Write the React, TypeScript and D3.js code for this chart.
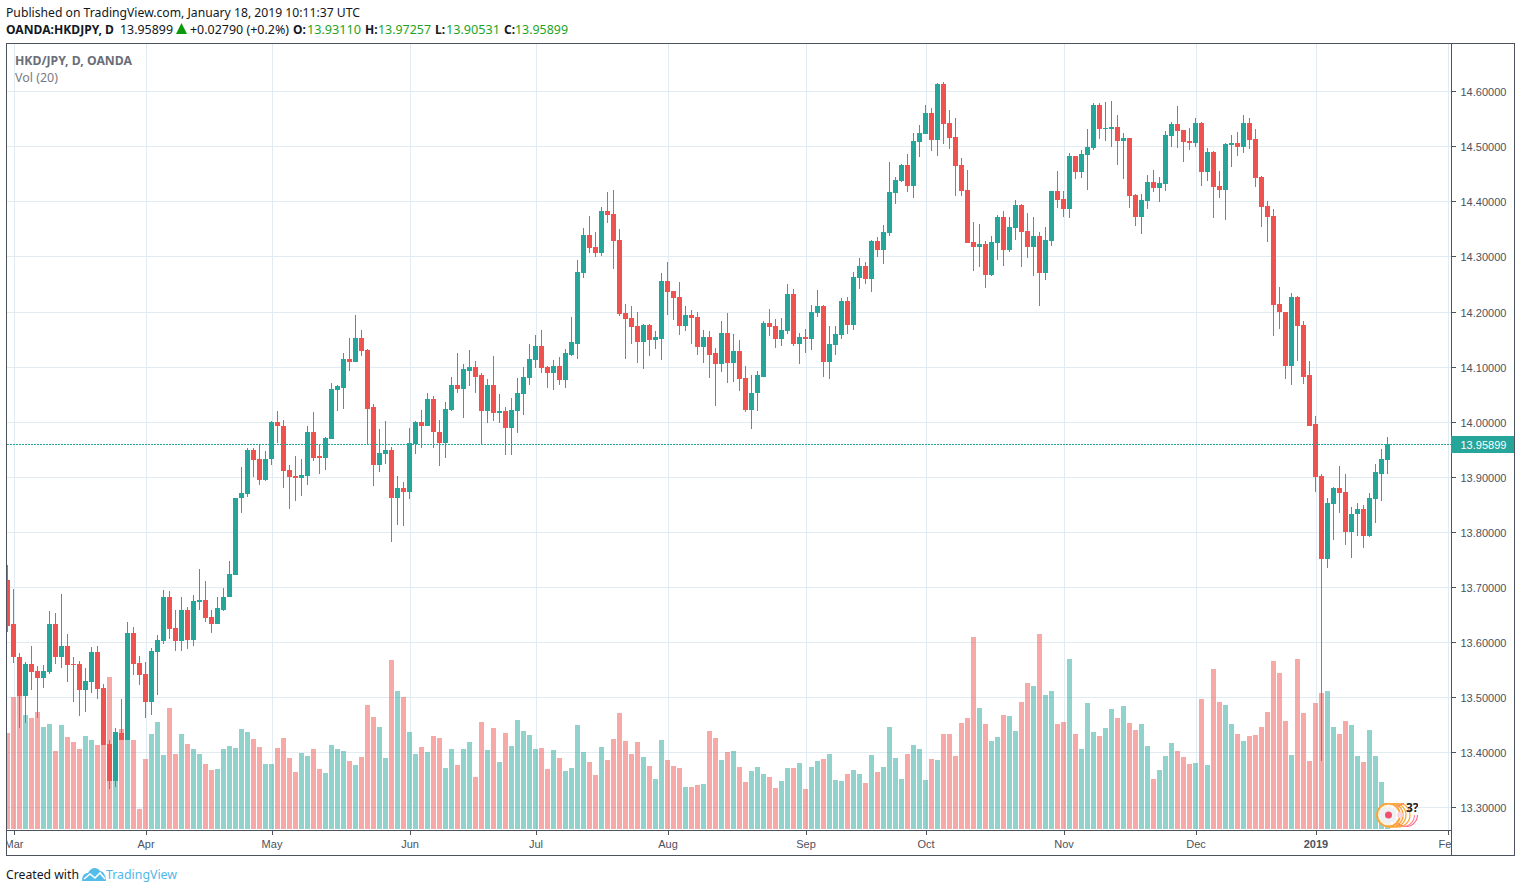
import React from "react";
import * as d3 from "d3";

const opens = [
13.713,13.632,13.573,13.502,13.561,13.548,13.535,13.546,13.632,13.572,
13.593,13.561,13.561,13.513,13.528,13.582,13.517,13.415,13.348,13.435,
13.422,13.617,13.562,13.542,13.492,13.582,13.602,13.682,13.626,13.602,
13.659,13.604,13.673,13.677,13.646,13.632,13.659,13.681,13.722,13.861,
13.868,13.948,13.933,13.895,13.932,13.999,13.993,13.912,13.901,13.897,
13.902,13.981,13.937,13.935,13.968,14.057,14.062,14.113,14.108,14.152,
14.130,14.026,13.921,13.942,13.948,13.862,13.879,13.873,13.960,13.999,
13.992,14.042,13.982,13.961,14.022,14.066,14.059,14.093,14.099,14.084,
14.019,14.066,14.015,14.019,13.988,14.019,14.050,14.079,14.112,14.137,
14.099,14.088,14.101,14.075,14.122,14.142,14.270,14.339,14.317,14.306,
14.382,14.377,14.330,14.197,14.188,14.173,14.144,14.175,14.148,14.151,
14.255,14.237,14.226,14.173,14.193,14.190,14.135,14.153,14.124,14.104,
14.161,14.106,14.128,14.079,14.021,14.052,14.082,14.179,14.173,14.150,
14.164,14.232,14.141,14.153,14.150,14.197,14.210,14.108,14.139,14.157,
14.219,14.175,14.261,14.282,14.259,14.328,14.312,14.342,14.415,14.437,
14.466,14.428,14.508,14.522,14.561,14.512,14.613,14.542,14.517,14.466,
14.421,14.326,14.317,14.322,14.266,14.324,14.372,14.312,14.351,14.393,
14.346,14.317,14.337,14.270,14.328,14.419,14.404,14.386,14.482,14.453,
14.484,14.497,14.575,14.531,14.531,14.535,14.510,14.515,14.412,14.372,
14.401,14.435,14.424,14.431,14.519,14.541,14.530,14.510,14.506,14.542,
14.453,14.490,14.428,14.421,14.502,14.506,14.499,14.542,14.513,14.444,
14.392,14.373,14.213,14.200,14.102,14.226,14.175,14.084,13.995,13.901,
13.750,13.850,13.879,13.872,13.799,13.832,13.842,13.792,13.859,13.906,
13.9311];

const closes = [
13.630,13.572,13.502,13.561,13.546,13.535,13.548,13.632,13.572,13.593,
13.559,13.559,13.513,13.530,13.582,13.515,13.413,13.348,13.437,13.422,
13.617,13.561,13.541,13.492,13.584,13.604,13.682,13.624,13.602,13.659,
13.604,13.675,13.677,13.644,13.632,13.661,13.682,13.724,13.862,13.870,
13.948,13.931,13.895,13.933,13.999,13.992,13.910,13.899,13.897,13.904,
13.981,13.935,13.935,13.970,14.059,14.064,14.113,14.108,14.152,14.128,
14.024,13.921,13.944,13.948,13.862,13.879,13.873,13.961,13.999,13.992,
14.042,13.981,13.961,14.024,14.066,14.059,14.095,14.099,14.082,14.019,
14.066,14.015,14.019,13.988,14.021,14.052,14.081,14.113,14.137,14.097,
14.088,14.101,14.075,14.124,14.144,14.272,14.339,14.315,14.306,14.382,
14.375,14.328,14.195,14.186,14.172,14.144,14.175,14.148,14.153,14.255,
14.235,14.224,14.173,14.193,14.188,14.135,14.153,14.122,14.104,14.161,
14.106,14.128,14.077,14.021,14.053,14.084,14.179,14.172,14.150,14.166,
14.232,14.141,14.153,14.150,14.199,14.210,14.108,14.141,14.159,14.219,
14.175,14.262,14.282,14.259,14.328,14.312,14.344,14.417,14.439,14.466,
14.428,14.510,14.524,14.561,14.512,14.613,14.541,14.515,14.464,14.419,
14.324,14.317,14.322,14.266,14.326,14.372,14.312,14.353,14.393,14.344,
14.317,14.337,14.270,14.330,14.419,14.402,14.386,14.482,14.453,14.486,
14.499,14.575,14.531,14.533,14.535,14.510,14.515,14.410,14.372,14.402,
14.435,14.424,14.433,14.521,14.541,14.528,14.508,14.506,14.542,14.453,
14.490,14.426,14.421,14.504,14.506,14.499,14.542,14.512,14.442,14.390,
14.372,14.212,14.199,14.102,14.226,14.173,14.082,13.993,13.899,13.750,
13.852,13.879,13.870,13.799,13.833,13.842,13.792,13.861,13.908,13.932,
13.95899];

const highs = [
13.739,13.697,13.581,13.564,13.593,13.557,13.559,13.657,13.652,13.688,
13.615,13.572,13.566,13.553,13.591,13.593,13.524,13.422,13.444,13.497,
13.637,13.628,13.575,13.564,13.590,13.613,13.695,13.692,13.659,13.682,
13.664,13.686,13.732,13.710,13.659,13.681,13.699,13.748,13.862,13.917,
13.952,13.953,13.957,13.946,14.001,14.019,14.004,13.922,13.937,13.932,
13.993,14.017,13.959,13.973,14.071,14.066,14.124,14.152,14.193,14.166,
14.132,14.032,13.986,14.001,13.955,13.901,13.890,13.988,14.002,14.021,
14.053,14.046,14.004,14.035,14.082,14.124,14.104,14.130,14.110,14.088,
14.077,14.119,14.050,14.026,14.044,14.079,14.099,14.142,14.157,14.166,
14.101,14.112,14.117,14.132,14.190,14.293,14.352,14.373,14.344,14.390,
14.417,14.421,14.350,14.213,14.210,14.199,14.177,14.177,14.164,14.270,
14.290,14.237,14.253,14.210,14.202,14.199,14.166,14.164,14.133,14.182,
14.197,14.159,14.148,14.102,14.084,14.093,14.182,14.204,14.186,14.188,
14.250,14.241,14.162,14.168,14.212,14.239,14.212,14.173,14.173,14.224,
14.226,14.272,14.297,14.290,14.330,14.335,14.357,14.472,14.444,14.468,
14.486,14.524,14.539,14.575,14.570,14.615,14.617,14.566,14.552,14.479,
14.457,14.362,14.359,14.328,14.337,14.375,14.382,14.372,14.402,14.395,
14.379,14.372,14.344,14.353,14.419,14.455,14.419,14.488,14.482,14.493,
14.531,14.579,14.579,14.581,14.582,14.557,14.524,14.515,14.413,14.413,
14.448,14.457,14.444,14.528,14.544,14.573,14.530,14.533,14.551,14.544,
14.497,14.491,14.455,14.506,14.521,14.526,14.557,14.551,14.531,14.446,
14.401,14.386,14.244,14.200,14.233,14.228,14.182,14.110,14.010,13.906,
13.862,13.882,13.919,13.906,13.846,13.852,13.848,13.870,13.924,13.950,
13.97257];

const lows = [
13.618,13.562,13.444,13.453,13.513,13.462,13.517,13.542,13.561,13.553,
13.528,13.492,13.466,13.473,13.508,13.497,13.413,13.333,13.337,13.422,
13.422,13.541,13.522,13.462,13.468,13.504,13.597,13.606,13.584,13.584,
13.588,13.593,13.659,13.637,13.617,13.632,13.657,13.681,13.722,13.835,
13.864,13.899,13.886,13.892,13.921,13.962,13.879,13.842,13.857,13.866,
13.886,13.928,13.906,13.913,13.968,14.019,14.024,14.092,14.108,14.119,
13.959,13.884,13.908,13.924,13.781,13.812,13.810,13.859,13.941,13.952,
13.992,13.953,13.919,13.935,14.019,14.052,14.006,14.064,14.053,13.960,
13.997,14.001,13.997,13.939,13.939,13.979,14.013,14.066,14.097,14.088,
14.061,14.057,14.066,14.062,14.119,14.113,14.261,14.306,14.299,14.301,
14.361,14.277,14.192,14.113,14.142,14.106,14.095,14.119,14.132,14.112,
14.193,14.184,14.157,14.164,14.142,14.121,14.106,14.079,14.028,14.090,
14.070,14.073,14.055,14.017,13.986,14.019,14.081,14.155,14.133,14.137,
14.159,14.137,14.104,14.124,14.130,14.190,14.082,14.077,14.122,14.150,
14.159,14.166,14.241,14.250,14.235,14.299,14.286,14.337,14.395,14.435,
14.417,14.406,14.481,14.522,14.492,14.482,14.504,14.495,14.410,14.410,
14.324,14.273,14.281,14.242,14.264,14.293,14.282,14.308,14.330,14.281,
14.297,14.264,14.210,14.257,14.319,14.388,14.372,14.370,14.441,14.442,
14.421,14.493,14.513,14.510,14.499,14.466,14.441,14.388,14.355,14.341,
14.386,14.417,14.399,14.419,14.499,14.497,14.471,14.493,14.499,14.428,
14.437,14.370,14.406,14.366,14.462,14.482,14.488,14.495,14.426,14.353,
14.326,14.155,14.168,14.077,14.066,14.110,14.068,13.993,13.872,13.384,
13.735,13.786,13.835,13.777,13.752,13.793,13.770,13.790,13.817,13.857,
13.90531];

const volumes = [
288,396,420,342,333,351,306,315,234,312,276,261,240,279,267,252,252,456,291,300,
267,267,60,210,285,321,222,363,225,285,255,240,225,195,177,180,240,249,243,300,
291,270,246,195,195,243,273,213,171,228,219,240,180,168,252,240,234,204,192,216,
372,336,306,213,507,414,396,291,225,246,231,279,273,183,240,192,240,261,156,321,
237,303,201,288,249,327,294,282,240,243,180,237,213,174,183,312,231,201,162,246,
207,270,348,264,225,261,216,189,150,267,207,189,183,126,126,132,135,294,273,207,
231,234,186,141,174,186,165,156,123,144,183,183,198,120,186,204,210,225,147,144,
165,177,165,138,222,171,186,306,213,150,225,252,240,147,210,207,285,285,219,318,
333,576,363,315,264,276,342,339,294,381,438,429,585,402,414,315,321,510,285,240,
378,291,279,303,360,333,369,318,297,315,249,150,177,219,258,234,216,195,198,390,
192,480,381,372,315,285,264,279,282,306,351,504,468,324,222,510,348,204,378,408,
414,306,285,324,312,219,201,297,219,141,30];

const priceTicks = [13.3,13.4,13.5,13.6,13.7,13.8,13.9,14.0,14.1,14.2,14.3,14.4,14.5,14.6];
const timeTickBars = [1,23,44,67,88,110,133,153,176,198,218,240];
const timeTickLabels = ["Mar","Apr","May","Jun","Jul","Aug","Sep","Oct","Nov","Dec","2019","Feb"];
const lastPrice = 13.95899;
const legendTitle = "HKD/JPY, D, OANDA";
const publishedLine = "Published on TradingView.com, January 18, 2019 10:11:37 UTC";

const UP = "#26a69a";
const DOWN = "#ef5350";
const GRID = "#e1ecf2";
const FRAME = "#4c525e";
const GREENTXT = "#1fa41f";
const SANS = "'Noto Sans', 'Open Sans', sans-serif";
const ARIAL = "'Liberation Sans', Arial, sans-serif";

const x = d3.scaleLinear().domain([0, 240]).range([7.5, 1447.5]);
const y = d3.scaleLinear().domain([13.3, 14.6]).range([807.3, 91.26]);
const yVol = d3.scaleLinear().domain([0, 597]).range([829, 630]);
const snap = (v: number) => Math.round(v);

export default function App() {
  const bars = d3.range(opens.length);
  return (
    <svg width={1521} height={892} style={{ position: "absolute", left: 0, top: 0, display: "block", background: "#fff" }} shapeRendering="crispEdges">
      <defs>
        <clipPath id="pane"><rect x={7} y={44} width={1444} height={786} /></clipPath>
        <clipPath id="timeAxis"><rect x={7} y={831} width={1444} height={24} /></clipPath>
        <clipPath id="badge"><rect x={1372} y={803} width={46} height={26} /></clipPath>
      </defs>

      {/* header */}
      <text x={6} y={17} fontFamily={SANS} fontSize={12} fill="#131722" textLength={354} lengthAdjust="spacingAndGlyphs" shapeRendering="auto">{publishedLine}</text>
      <g fontFamily={SANS} fontSize={12} fill="#131722">
        <text x={6} y={34} fontWeight={700} textLength={108} lengthAdjust="spacingAndGlyphs">OANDA:HKDJPY, D</text>
        <text x={120} y={34} textLength={53} lengthAdjust="spacingAndGlyphs">13.95899</text>
        <path d="M176 34 L181.5 23 L187 34 Z" fill="#0a9a0a" shapeRendering="auto" />
        <text x={190} y={34} textLength={99} lengthAdjust="spacingAndGlyphs">+0.02790 (+0.2%)</text>
        <text x={293} y={34} fontWeight={700}>O:</text>
        <text x={307} y={34} fill={GREENTXT} textLength={54} lengthAdjust="spacingAndGlyphs">13.93110</text>
        <text x={365} y={34} fontWeight={700}>H:</text>
        <text x={378} y={34} fill={GREENTXT} textLength={53} lengthAdjust="spacingAndGlyphs">13.97257</text>
        <text x={435} y={34} fontWeight={700}>L:</text>
        <text x={446} y={34} fill={GREENTXT} textLength={54} lengthAdjust="spacingAndGlyphs">13.90531</text>
        <text x={504} y={34} fontWeight={700}>C:</text>
        <text x={515} y={34} fill={GREENTXT} textLength={53} lengthAdjust="spacingAndGlyphs">13.95899</text>
      </g>

      {/* grid */}
      <g clipPath="url(#pane)">
        {timeTickBars.map((b) => (
          <rect key={b} x={x(b) + 0.5} y={44} width={1} height={786} fill={GRID} />
        ))}
        {priceTicks.map((p) => (
          <rect key={p} x={7} y={snap(y(p))} width={1444} height={1} fill={GRID} />
        ))}

        {/* volume */}
        {bars.map((i) => (
          <rect key={i} x={x(i) - 2.5} y={snap(yVol(volumes[i]))} width={5} height={829 - snap(yVol(volumes[i]))}
            fill={closes[i] >= opens[i] ? UP : DOWN} fillOpacity={0.5} />
        ))}

        {/* candles */}
        {bars.map((i) => {
          const c = closes[i] >= opens[i] ? UP : DOWN;
          const top = snap(y(Math.max(opens[i], closes[i])));
          const bot = Math.max(top + 1, snap(y(Math.min(opens[i], closes[i]))));
          const hi = snap(y(highs[i]));
          const lo = snap(y(lows[i]));
          return (
            <g key={i} fill={c}>
              <rect x={x(i) - 0.5} y={hi} width={1} height={Math.max(lo - hi, 1)} />
              <rect x={x(i) - 2.5} y={top} width={5} height={bot - top} />
            </g>
          );
        })}

        {/* last price line */}
        <line x1={7} x2={1451} y1={snap(y(lastPrice)) + 0.5} y2={snap(y(lastPrice)) + 0.5} stroke={UP} strokeWidth={1} strokeDasharray="2 1" />
      </g>

      {/* badge */}
      <g clipPath="url(#badge)" shapeRendering="auto" fill="none">
        <circle cx={1406} cy={815} r={11.5} stroke="#ff5f83" strokeWidth={1.1} />
        <circle cx={1403} cy={815} r={11.5} stroke="#ff7f9a" strokeWidth={1.1} />
        <rect x={1404} y={802} width={16} height={13} fill="#fff" />
        <circle cx={1398} cy={815} r={12} stroke="#f9a53a" strokeWidth={1.2} />
        <circle cx={1394} cy={815} r={12} stroke="#f9a53a" strokeWidth={1.2} />
        <circle cx={1391} cy={815} r={12} stroke="#f9a53a" strokeWidth={1.4} />
        <circle cx={1388.5} cy={815} r={11.5} fill="#fff" fillOpacity={0.8} stroke="#f9a53a" strokeWidth={2} />
        <circle cx={1388.5} cy={815} r={8} fill="#eff0f3" />
        <circle cx={1400} cy={815} r={3} fill="#fbd4dc" />
        <circle cx={1388.5} cy={815} r={3.5} fill="#f0506e" />
        <text x={1406} y={812} fontFamily={SANS} fontSize={12} fontWeight={700} fill="#222">3?</text>
      </g>

      {/* frame and axes */}
      <rect x={6.5} y={43.5} width={1508} height={812} fill="none" stroke={FRAME} />
      <rect x={7} y={830} width={1444} height={1} fill={FRAME} />
      <rect x={1451} y={44} width={1} height={811} fill={FRAME} />

      {/* price axis */}
      <g fontFamily={ARIAL} fontSize={11} fill={FRAME} shapeRendering="auto">
        {priceTicks.map((p) => (
          <g key={p}>
            <rect x={1452} y={snap(y(p))} width={4} height={1} fill={FRAME} shapeRendering="crispEdges" />
            <text x={1460.5} y={snap(y(p)) + 5}>{p.toFixed(5)}</text>
          </g>
        ))}
      </g>
      <rect x={1451} y={436} width={63} height={17} fill={UP} />
      <text x={1460.5} y={449} fontFamily={ARIAL} fontSize={11} fill="#fff" shapeRendering="auto">{lastPrice.toFixed(5)}</text>

      {/* time axis */}
      <g fontFamily={ARIAL} fontSize={11} fill={FRAME} textAnchor="middle" clipPath="url(#timeAxis)">
        {timeTickBars.map((b, k) => (
          <g key={b}>
            <rect x={x(b) + 0.5} y={831} width={1} height={4} fill={FRAME} />
            <text x={x(b) + 0.5} y={848} fontWeight={timeTickLabels[k] === "2019" ? 700 : 400}>{timeTickLabels[k]}</text>
          </g>
        ))}
      </g>

      {/* legend */}
      <text x={15} y={65} fontFamily={SANS} fontSize={12.5} fontWeight={700} fill="#6a6e78" textLength={117} lengthAdjust="spacingAndGlyphs">{legendTitle}</text>
      <text x={15} y={82} fontFamily={SANS} fontSize={12.5} fill="#787c86" textLength={43} lengthAdjust="spacingAndGlyphs">Vol (20)</text>

      {/* footer */}
      <text x={6} y={879} fontFamily={SANS} fontSize={12.5} fill="#131722" textLength={73} lengthAdjust="spacingAndGlyphs">Created with</text>
      <g shapeRendering="auto">
        <path d="M82 881 C82 875 85 873 88 873 C91 868 96 866 100 871 C103 871 106 875 106 881 Z" fill="#54bce9" />
        <path d="M84 879 L90 874 L95 878 L100 873 L105 879" fill="none" stroke="#fff" strokeWidth={1.6} />
      </g>
      <text x={106} y={879} fontFamily={SANS} fontSize={12.5} fill="#4fb8e8" textLength={71} lengthAdjust="spacingAndGlyphs">TradingView</text>
    </svg>
  );
}
